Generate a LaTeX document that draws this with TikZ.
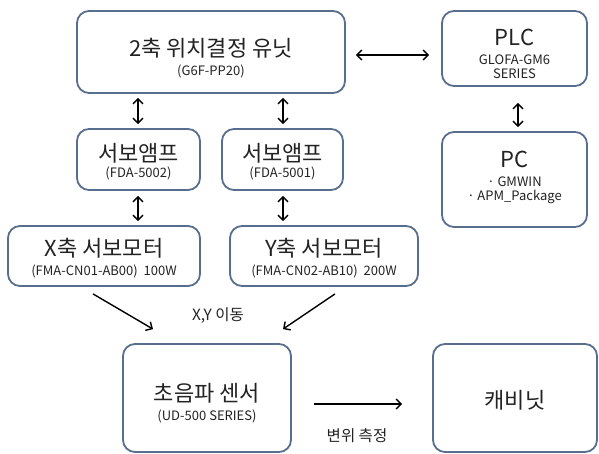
\documentclass[tikz,border=0pt]{standalone}
\usepackage{fontspec}
\setmainfont{Noto Sans CJK KR}
\usetikzlibrary{arrows.meta}
\definecolor{boxline}{RGB}{88,110,142}
\definecolor{txtgray}{RGB}{35,35,35}
\newcommand{\bigtxt}{\fontsize{22}{24}\selectfont}
\newcommand{\subtxt}{\fontsize{13}{15}\selectfont}

\begin{document}
\begin{tikzpicture}[x=1pt, y=-1pt,
    box/.style={draw=boxline, line width=1.8pt, rounded corners=12pt, fill=white, inner sep=0pt},
    txt/.style={align=center, inner sep=0pt, text=txtgray, font=\subtxt},
    arr/.style={line width=1.4pt, -{Straight Barb[length=5pt,width=10pt]}},
    dbl/.style={line width=1.4pt, {Straight Barb[length=5pt,width=10pt]}-{Straight Barb[length=5pt,width=10pt]}},
    lbl/.style={text=txtgray, font=\fontsize{15.5}{17}\selectfont}]
    \useasboundingbox (0,0) rectangle (599,454);

    \node[box, minimum width=268pt, minimum height=82pt] (unit) at (211,52) {};
    \node[txt] (unittxt) at (211,58) {\bigtxt 2축 위치결정 유닛\\[4pt](G6F-PP20)};
    \node[box, minimum width=145pt, minimum height=75pt] (plc) at (514.5,48.5) {};
    \node[txt] (plctxt) at (514.5,54) {\bigtxt PLC\\[4pt]GLOFA-GM6\\[-1pt]SERIES};
    \node[box, minimum width=145pt, minimum height=95pt] (pc) at (514.5,179.5) {};
    \node[txt] (pctxt) at (514.5,177) {\bigtxt PC\\[4pt]· GMWIN\\[-1pt]· APM\_Package};

    \node[box, minimum width=123pt, minimum height=61pt] (ampx) at (138.5,159.5) {};
    \node[txt] (ampxtxt) at (138.5,161.5) {\bigtxt 서보앰프\\[1pt](FDA-5002)};
    \node[box, minimum width=121pt, minimum height=61pt] (ampy) at (282.5,159.5) {};
    \node[txt] (ampytxt) at (282.5,161.5) {\bigtxt 서보앰프\\[1pt](FDA-5001)};

    \node[box, minimum width=192pt, minimum height=60pt] (motx) at (104,256) {};
    \node[txt] (motxtxt) at (104,258.5) {\bigtxt X축 서보모터\\[4pt](FMA-CN01-AB00)~~100W};
    \node[box, minimum width=188pt, minimum height=60pt] (moty) at (324,256) {};
    \node[txt] (motytxt) at (324,258.5) {\bigtxt Y축 서보모터\\[4pt](FMA-CN02-AB10)~~200W};

    \node[box, minimum width=168pt, minimum height=108pt] (sensor) at (207,398) {};
    \node[txt] (sensortxt) at (207,403.5) {\bigtxt 초음파 센서\\[4pt](UD-500 SERIES)};
    \node[box, minimum width=164pt, minimum height=108pt] (cab) at (515,398) {};
    \node[txt, font=\bigtxt] (cabtxt) at (515,400) {캐비닛};

    \draw[dbl, shorten <=10pt, shorten >=12pt] (unit.east |- 0,55) -- (plc.west |- 0,55);
    \draw[dbl, shorten <=16pt, shorten >=4pt] (plc.south -| 518,0) -- (pc.north -| 518,0);
    \draw[dbl, shorten <=4pt, shorten >=4pt] (unit.south -| 138,0) -- (ampx.north -| 138,0);
    \draw[dbl, shorten <=4pt, shorten >=4pt] (unit.south -| 283,0) -- (ampy.north -| 283,0);
    \draw[dbl, shorten <=5pt, shorten >=4pt] (ampx.south -| 138,0) -- (motx.north -| 138,0);
    \draw[dbl, shorten <=5pt, shorten >=4pt] (ampy.south -| 283,0) -- (moty.north -| 283,0);

    \draw[arr] ([xshift=-11pt, yshift=-7pt]motx.south) -- ([xshift=-54pt, yshift=14pt]sensor.north);
    \draw[arr] ([xshift=11pt, yshift=-7pt]moty.south) -- ([xshift=76pt, yshift=14pt]sensor.north);
    \node[lbl] (move) at (218,316) {X,Y 이동};

    \draw[arr, shorten <=22pt, shorten >=30pt] ([yshift=-6pt]sensor.east) -- ([yshift=-6pt]cab.west);
    \node[lbl] (meas) at (357,436) {변위 측정};
  \end{tikzpicture}
\end{document}
